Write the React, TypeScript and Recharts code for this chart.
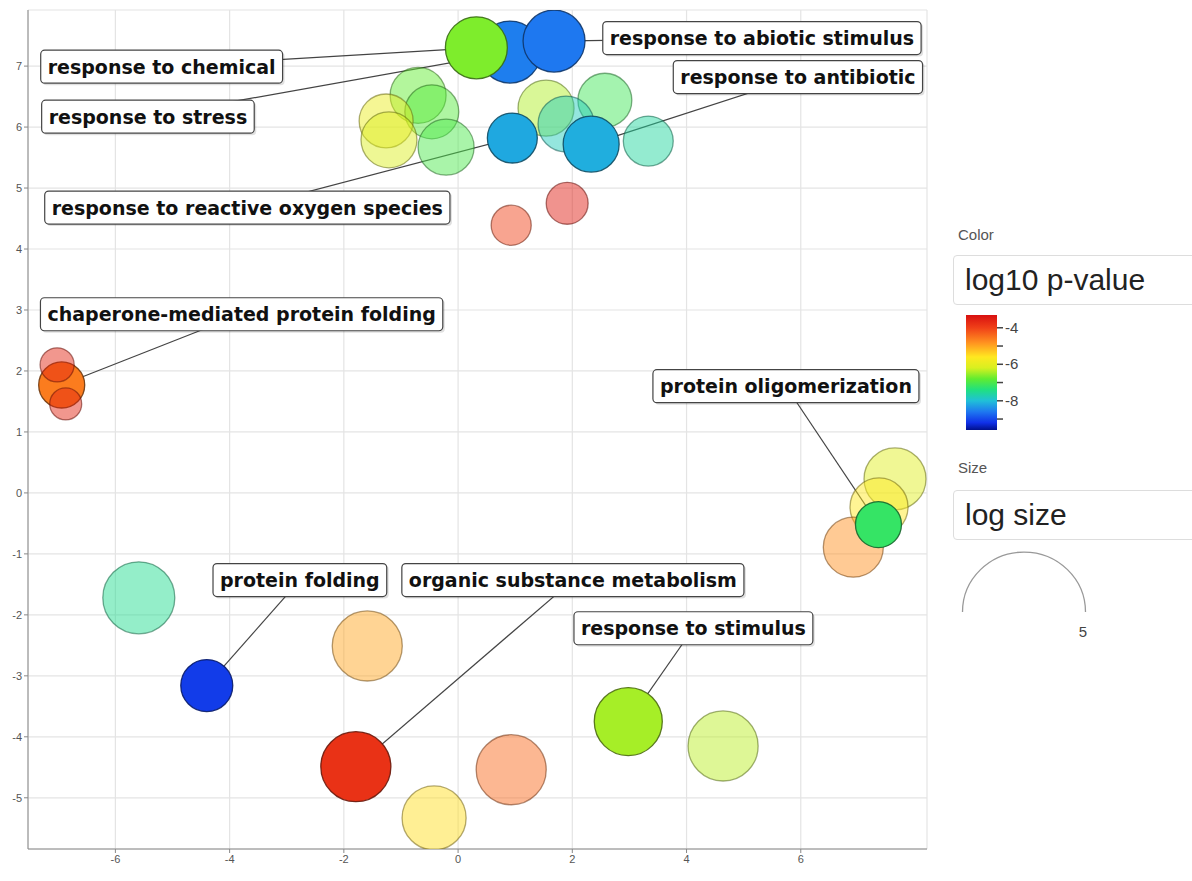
import React from "react";
import {
  ScatterChart,
  Scatter,
  XAxis,
  YAxis,
  ZAxis,
  CartesianGrid,
  ReferenceLine,
  ReferenceArea,
} from "recharts";

// GO terms, in draw order (semantic space x / y)
const termX = [
  0.91, 0.32, 1.68, -0.7, -0.46, -1.26, -1.21, -0.21, 1.54, 2.57, 1.89, 0.95,
  2.33, 3.33, 1.91, 0.93, -6.94, -7.02, -6.87, 7.65, 7.37, 6.92, 7.36, -5.59,
  -4.4, -1.59, -1.79, -0.42, 0.93, 2.98, 4.64,
];
const termY = [
  7.23, 7.3, 7.41, 6.52, 6.25, 6.1, 5.79, 5.67, 6.31, 6.44, 6.05, 5.82, 5.72,
  5.77, 4.75, 4.39, 1.77, 2.1, 1.46, 0.23, -0.23, -0.89, -0.52, -1.72, -3.16,
  -2.51, -4.49, -5.33, -4.54, -3.75, -4.15,
];
const logSize = [
  4.03, 4.03, 4.03, 3.52, 3.36, 3.36, 3.52, 3.52, 3.52, 3.36, 3.52, 3.06, 3.52,
  3.06, 2.53, 2.42, 2.79, 2.1, 2.0, 4.03, 3.69, 3.86, 2.79, 5.0, 3.21, 4.8, 4.8,
  4.22, 4.8, 4.6, 4.8,
];
const log10p = [
  -8.55, -6.65, -8.6, -6.8, -6.9, -5.9, -6.15, -7.0, -6.4, -7.1, -7.8, -8.2,
  -8.15, -7.6, -3.5, -4.0, -4.6, -3.6, -3.6, -6.1, -5.6, -4.8, -7.2, -7.5, -9.1,
  -5.0, -3.8, -5.5, -4.4, -6.45, -6.35,
];
const representative = [
  1, 1, 1, 0, 0, 0, 0, 0, 0, 0, 0, 1, 1, 0, 0, 0, 1, 0, 0, 0, 0, 0, 1, 0, 1, 0,
  1, 0, 0, 1, 0,
];

// labelled terms: text, index of the term, label centre
const labelText = [
  "response to chemical",
  "response to stress",
  "response to abiotic stimulus",
  "response to antibiotic",
  "response to reactive oxygen species",
  "chaperone-mediated protein folding",
  "protein oligomerization",
  "protein folding",
  "organic substance metabolism",
  "response to stimulus",
];
const labelTarget = [1, 0, 2, 12, 11, 16, 22, 24, 26, 29];
const labelX = [-5.19, -5.43, 5.32, 5.95, -3.69, -3.79, 5.74, -2.77, 2.01, 4.12];
const labelY = [6.99, 6.17, 7.46, 6.82, 4.68, 2.93, 1.75, -1.43, -1.43, -2.22];

const xTicks = [-6, -4, -2, 0, 2, 4, 6];
const yTicks = [-5, -4, -3, -2, -1, 0, 1, 2, 3, 4, 5, 6, 7];
const colorTicks = [-4, -5, -6, -7, -8, -9];

// colour scale for log10 p-value
const colorStops = [
  { v: -9.6, c: "#00108c" },
  { v: -9.2, c: "#1030e8" },
  { v: -8.6, c: "#1e78f0" },
  { v: -8.0, c: "#20c0d8" },
  { v: -7.4, c: "#20e080" },
  { v: -6.8, c: "#60ec30" },
  { v: -6.2, c: "#d8f020" },
  { v: -5.6, c: "#ffe820" },
  { v: -4.8, c: "#ff9020" },
  { v: -4.0, c: "#f04018" },
  { v: -3.3, c: "#d81010" },
];

function hexToRgb(h: string) {
  return [1, 3, 5].map((i) => parseInt(h.slice(i, i + 2), 16));
}
function rgb(c: number[]) {
  return `rgb(${c.map((v) => Math.round(v)).join(",")})`;
}
function colorFor(v: number) {
  if (v <= colorStops[0].v) return hexToRgb(colorStops[0].c);
  for (let i = 1; i < colorStops.length; i++) {
    if (v <= colorStops[i].v) {
      const a = colorStops[i - 1];
      const b = colorStops[i];
      const t = (v - a.v) / (b.v - a.v);
      const ca = hexToRgb(a.c);
      const cb = hexToRgb(b.c);
      return ca.map((x, k) => x + (cb[k] - x) * t);
    }
  }
  return hexToRgb(colorStops[colorStops.length - 1].c);
}

const bubbles = termX.map((x, i) => ({
  x,
  y: termY[i],
  size: logSize[i],
  p: log10p[i],
  rep: representative[i],
}));
const labels = labelText.map((text, i) => ({ x: labelX[i], y: labelY[i], text }));

const LABEL_FONT = '700 19px "DejaVu Sans"';
let measureCtx: CanvasRenderingContext2D | null = null;
function textWidth(s: string) {
  if (!measureCtx) measureCtx = document.createElement("canvas").getContext("2d");
  if (!measureCtx) return s.length * 10;
  measureCtx.font = LABEL_FONT;
  return measureCtx.measureText(s).width;
}

const Bubble = (props: any) => {
  const { cx, cy, payload } = props;
  const r = props.size ? Math.sqrt(props.size / Math.PI) : props.width / 2;
  const c = colorFor(payload.p);
  const dark = c.map((v) => v * 0.45);
  return (
    <circle
      cx={cx}
      cy={cy}
      r={r}
      fill={rgb(c)}
      fillOpacity={payload.rep ? 1 : 0.48}
      stroke={rgb(dark)}
      strokeOpacity={payload.rep ? 0.9 : 0.55}
      strokeWidth={1.3}
    />
  );
};

const LabelBox = (props: any) => {
  const { cx, cy, payload } = props;
  const w = textWidth(payload.text) + 14;
  const h = 33;
  return (
    <g>
      <rect x={cx - w / 2 + 2} y={cy - h / 2 + 2} width={w} height={h} rx={4} fill="#000" fillOpacity={0.12} />
      <rect x={cx - w / 2} y={cy - h / 2} width={w} height={h} rx={4} fill="#fff" stroke="#444" strokeWidth={1.2} />
      <text x={cx} y={cy + 7} textAnchor="middle" fill="#111" style={{ font: LABEL_FONT }}>
        {payload.text}
      </text>
    </g>
  );
};

function ColorBar() {
  const top = -3.3;
  const bottom = -9.6;
  const y0 = 315;
  const hgt = 115;
  const pos = (v: number) => y0 + ((top - v) / (top - bottom)) * hgt;
  return (
    <svg width={120} height={140} style={{ position: "absolute", left: 950, top: 0, overflow: "visible" }}>
      <defs>
        <linearGradient id="pbar" x1="0" y1="1" x2="0" y2="0">
          {colorStops.map((s) => (
            <stop key={s.v} offset={(s.v - bottom) / (top - bottom)} stopColor={s.c} />
          ))}
        </linearGradient>
      </defs>
      <rect x={16} y={y0} width={31} height={hgt} fill="url(#pbar)" />
      {colorTicks.map((t) => (
        <line key={t} x1={47} x2={53} y1={pos(t)} y2={pos(t)} stroke="#444" strokeWidth={1.5} />
      ))}
      {colorTicks
        .filter((t) => t % 2 === 0)
        .map((t) => (
          <text key={t} x={55} y={pos(t) + 5} fontSize={15} fill="#444" fontFamily="Liberation Sans, Arial, sans-serif">
            {t}
          </text>
        ))}
    </svg>
  );
}

export default function App() {
  return (
    <div
      style={{
        position: "absolute",
        left: 0,
        top: 0,
        width: 1192,
        height: 881,
        background: "#fff",
        fontFamily: "Liberation Sans, Arial, sans-serif",
        overflow: "hidden",
      }}
    >
      <ScatterChart width={930} height={881} margin={{ top: 10, right: 3, bottom: 0, left: 0 }}>
        <CartesianGrid stroke="#e4e4e4" strokeWidth={1.2} />
        <XAxis
          type="number"
          dataKey="x"
          domain={[-7.53, 8.21]}
          ticks={xTicks}
          height={32}
          tickSize={4}
          tick={{ fontSize: 11, fill: "#555" }}
          stroke="#888"
          allowDataOverflow
        />
        <YAxis
          type="number"
          dataKey="y"
          domain={[-5.84, 7.92]}
          ticks={yTicks}
          width={28}
          tickSize={4}
          tick={{ fontSize: 11, fill: "#555" }}
          stroke="#888"
          allowDataOverflow
        />
        <ZAxis type="number" dataKey="size" domain={[2, 5]} range={[804, 4072]} />
        <ReferenceArea fill="none" stroke="#999" strokeWidth={1.2} />
        {labels.map((l, i) => (
          <ReferenceLine
            key={l.text}
            segment={[
              { x: l.x, y: l.y },
              { x: termX[labelTarget[i]], y: termY[labelTarget[i]] },
            ]}
            stroke="#444"
            strokeWidth={1.2}
          />
        ))}
        <Scatter data={bubbles} shape={<Bubble />} isAnimationActive={false} />
        <Scatter data={labels} shape={<LabelBox />} isAnimationActive={false} />
      </ScatterChart>

      {/* legend */}
      <div style={{ position: "absolute", left: 958, top: 226, fontSize: 15, color: "#555" }}>Color</div>
      <div
        style={{
          position: "absolute",
          left: 953,
          top: 255,
          width: 260,
          height: 50,
          border: "1px solid #ddd",
          borderRadius: 4,
          boxSizing: "border-box",
          fontSize: 30,
          lineHeight: "48px",
          paddingLeft: 11,
          color: "#222",
        }}
      >
        log10 p-value
      </div>
      <ColorBar />
      <div style={{ position: "absolute", left: 958, top: 459, fontSize: 15, color: "#555" }}>Size</div>
      <div
        style={{
          position: "absolute",
          left: 953,
          top: 490,
          width: 260,
          height: 50,
          border: "1px solid #ddd",
          borderRadius: 4,
          boxSizing: "border-box",
          fontSize: 30,
          lineHeight: "48px",
          paddingLeft: 11,
          color: "#222",
        }}
      >
        log size
      </div>
      <svg width={200} height={120} style={{ position: "absolute", left: 950, top: 540 }}>
        <path d="M 12.5 72 A 61.5 60 0 0 1 135.5 72" fill="none" stroke="#999" strokeWidth={1.3} />
        <text x={133} y={97} fontSize={15} fill="#444" textAnchor="middle">
          5
        </text>
      </svg>
    </div>
  );
}
